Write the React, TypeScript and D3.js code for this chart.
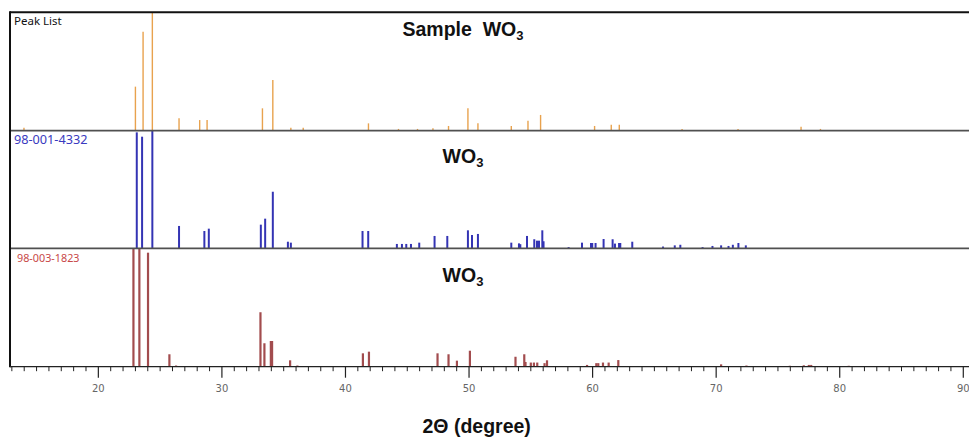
import React from "react";
import * as d3 from "d3";

// ---------- data ----------
const samplePos = [13.98, 23.0, 23.62, 24.37, 26.53, 28.2, 28.8, 33.28, 34.12, 35.58, 36.58, 41.86, 44.29, 45.83, 47.08, 48.34, 49.91, 50.72, 53.42, 54.77, 55.79, 60.16, 61.51, 62.16, 67.24, 71.77, 76.87, 78.44];
const sampleInt = [2.5, 37.2, 83.6, 100, 10.5, 9.0, 9.0, 18.9, 42.8, 2.5, 2.5, 6.2, 1.5, 1.5, 2.0, 4.0, 18.9, 6.2, 4.0, 8.4, 13.3, 4.0, 5.0, 5.0, 1.5, 1.5, 3.4, 1.5];

const ref1Pos = [23.11, 23.54, 24.37, 26.53, 28.58, 28.94, 33.15, 33.5, 34.12, 35.34, 35.58, 41.38, 41.84, 44.16, 44.57, 44.92, 45.3, 45.97, 47.21, 48.24, 49.91, 50.24, 50.72, 53.42, 54.04, 54.15, 54.69, 55.28, 55.5, 55.66, 55.93, 56.03, 58.06, 59.14, 59.87, 59.97, 60.24, 60.89, 61.62, 61.81, 62.14, 62.24, 63.21, 65.7, 66.65, 67.1, 68.9, 69.7, 70.4, 71.0, 71.35, 71.8, 72.4];
const ref1Int = [98.6, 94.9, 100, 19.0, 14.7, 16.7, 20.1, 25.2, 48.1, 5.6, 4.8, 14.7, 14.7, 3.7, 3.7, 3.7, 3.7, 4.8, 10.5, 10.5, 15.3, 11.3, 12.2, 4.8, 4.2, 3.5, 10.5, 7.7, 6.5, 6.5, 15.3, 6.0, 1.0, 4.8, 4.5, 4.5, 4.5, 7.9, 7.7, 4.0, 4.5, 4.5, 5.6, 1.5, 2.5, 3.0, 1.0, 2.0, 2.5, 2.0, 3.0, 4.5, 2.5];

const ref2Pos = [22.84, 23.32, 24.02, 25.75, 26.29, 33.12, 33.44, 33.96, 34.06, 35.52, 36.11, 41.41, 41.9, 47.45, 48.34, 49.02, 50.07, 53.76, 54.47, 54.57, 55.0, 55.25, 55.52, 56.11, 56.31, 59.55, 60.3, 60.46, 60.84, 61.3, 62.08, 70.4, 72.45, 75.96, 77.09, 77.5, 77.69, 80.73];
const ref2Int = [100, 100, 96.3, 10.5, 1.0, 46.0, 19.8, 21.7, 21.7, 5.4, 1.0, 11.3, 12.7, 11.3, 10.5, 5.1, 13.5, 8.4, 10.5, 4.0, 3.5, 3.5, 3.5, 3.0, 5.4, 1.5, 3.0, 3.0, 3.5, 3.5, 5.6, 2.0, 1.0, 0.8, 1.2, 1.5, 1.5, 0.8];

const panelLabels = ["Peak List", "98-001-4332", "98-003-1823"];
const panelTitles = ["Sample", "", ""];
const majorTicks = [20, 30, 40, 50, 60, 70, 80, 90];
const axisTitle = "2\u0398 (degree)";

// ---------- layout ----------
const W = 969;
const H = 441;
const left = 10;
const right = 967;
const panelTops = [12.3, 130.7, 248.3];
const panelBottoms = [130.7, 248.3, 366.7];
const colors = ["#e8a24e", "#3434b4", "#a24c4e"];
const labelColors = ["#111", "#3a3ac0", "#c84848"];
const widths = [1.4, 2, 2.2];

export default function App() {
  const x = d3.scaleLinear().domain([12.85, 90.3]).range([left, right]);
  const minorTicks = d3.range(13, 91, 1).filter((t) => t % 10 !== 0);
  const series = [
    { pos: samplePos, val: sampleInt },
    { pos: ref1Pos, val: ref1Int },
    { pos: ref2Pos, val: ref2Int },
  ];
  const titleX = 463;
  const titleBase = [36, 163.3, 281.7];

  return (
    <svg
      width={W}
      height={H}
      style={{ position: "absolute", left: 0, top: 0, background: "#fff" }}
    >
      <rect x={0} y={0} width={W} height={H} fill="#fff" />
      {series.map((s, i) => {
        const y = d3
          .scaleLinear()
          .domain([0, 100])
          .range([panelBottoms[i], panelTops[i]]);
        return (
          <g key={i}>
            {s.pos.map((p, j) => (
              <line
                key={j}
                x1={x(p)}
                x2={x(p)}
                y1={y(0)}
                y2={y(s.val[j])}
                stroke={colors[i]}
                strokeWidth={widths[i]}
              />
            ))}
            <text
              x={i === 2 ? 17 : 14}
              y={[25, 143.5, 262.3][i]}
              fontFamily="'Noto Sans', sans-serif"
              fontSize={[11.5, 12.7, 10.8][i]}
              fill={labelColors[i]}
            >
              {panelLabels[i]}
            </text>
            <text
              x={titleX}
              y={titleBase[i]}
              textAnchor="middle"
              fontFamily="'Liberation Sans', Arial, sans-serif"
              fontWeight="bold"
              fontSize={19.5}
              fill="#111"
            >
              {panelTitles[i] ? panelTitles[i] + "\u00a0 " : ""}WO
              <tspan fontSize={13} dy={4}>
                3
              </tspan>
            </text>
          </g>
        );
      })}
      {/* panel separators */}
      {[panelBottoms[0], panelBottoms[1]].map((yy, i) => (
        <line key={i} x1={left} x2={W} y1={yy} y2={yy} stroke="#505050" strokeWidth={1.8} />
      ))}
      {/* top border */}
      <line x1={left} x2={W} y1={panelTops[0]} y2={panelTops[0]} stroke="#111" strokeWidth={2} />
      {/* left border */}
      <line x1={left} x2={left} y1={panelTops[0] - 1} y2={panelBottoms[2] + 0.5} stroke="#111" strokeWidth={2} />
      {/* x axis */}
      <line x1={left} x2={W} y1={panelBottoms[2]} y2={panelBottoms[2]} stroke="#222" strokeWidth={1.2} />
      {minorTicks.map((t) => (
        <line
          key={"m" + t}
          x1={x(t)}
          x2={x(t)}
          y1={panelBottoms[2]}
          y2={panelBottoms[2] + 4.5}
          stroke="#222"
          strokeWidth={1}
        />
      ))}
      {majorTicks.map((t) => (
        <g key={"M" + t}>
          <line
            x1={x(t)}
            x2={x(t)}
            y1={panelBottoms[2]}
            y2={panelBottoms[2] + 11}
            stroke="#222"
            strokeWidth={1.2}
          />
          <text
            x={x(t)}
            y={391.7}
            textAnchor="middle"
            fontFamily="'DejaVu Sans', sans-serif"
            fontSize={10}
            fill="#666"
          >
            {t}
          </text>
        </g>
      ))}
      <text
        x={476.7}
        y={432.7}
        textAnchor="middle"
        fontFamily="'Liberation Sans', Arial, sans-serif"
        fontWeight="bold"
        fontSize={19.5}
        fill="#111"
      >
        {axisTitle}
      </text>
    </svg>
  );
}
